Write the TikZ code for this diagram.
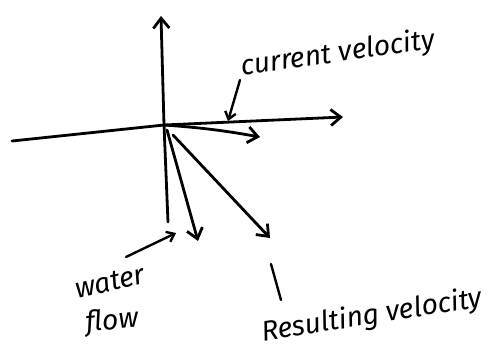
\documentclass[tikz,border=0pt]{standalone}
\usepackage{fontspec}
\setmainfont{Fira Sans}
\usetikzlibrary{arrows.meta,positioning}
\tikzset{
sketch_line/.style={line width=1.4mm, line cap=round, line join=round, color=black},
sketch_arrow/.style={sketch_line, -{Straight Barb[length=5mm, width=8mm, line width=1.4mm]}},
pointer/.style={sketch_line, line width=1.2mm, -{Straight Barb[length=3.5mm, width=5.5mm, line width=1.2mm]}},
hand_text/.style={font=\fontsize{40}{42}\selectfont\itshape, inner sep=0pt, text=black}
}

\begin{document}
\begin{tikzpicture}[x=0.5mm, y=-0.5mm]
    \useasboundingbox (0,0) rectangle (488,362);
    % axes
    \coordinate (origin) at (164,125);
    \coordinate (axis_top) at (161,16);
    \coordinate (axis_bottom) at (168,222);
    \coordinate (axis_left) at (12,141);
    \coordinate (axis_right) at (343,117);
    \draw[sketch_arrow] (axis_bottom) -- (origin) -- (axis_top);
    \draw[sketch_arrow] (axis_left) -- (origin) -- (axis_right);
    % vectors
    \coordinate (short_tip) at (260,137);
    \coordinate (flow_tip) at (198,241);
    \coordinate (result_tip) at (270,238);
    \draw[sketch_arrow] (origin) to [bend left=3] (short_tip);
    \draw[sketch_arrow] ([shift={(3,5)}]origin) -- (flow_tip);
    \draw[sketch_arrow] ([shift={(9,10)}]origin) -- (result_tip);
    % labels
    \node[hand_text, rotate=8] (current_label) at (338,54) {current velocity};
    \node[hand_text, rotate=12] (water_label) at (110,282) {water};
    \node[hand_text, rotate=5] (flow_label) at (112,322) {flow};
    \node[hand_text, rotate=9] (result_label) at (372,316) {Resulting velocity};
    \coordinate (current_from) at (240,80);
    \coordinate (current_mark) at (228,121);
    \coordinate (water_from) at (126,257);
    \coordinate (water_mark) at (176,233);
    \coordinate (result_from) at (281,300);
    \coordinate (result_mark) at (271,264);
    \draw[pointer] (current_from) -- (current_mark);
    \draw[pointer] (water_from) -- (water_mark);
    \draw[sketch_line, line width=1.2mm] (result_from) -- (result_mark);
\end{tikzpicture}
\end{document}
